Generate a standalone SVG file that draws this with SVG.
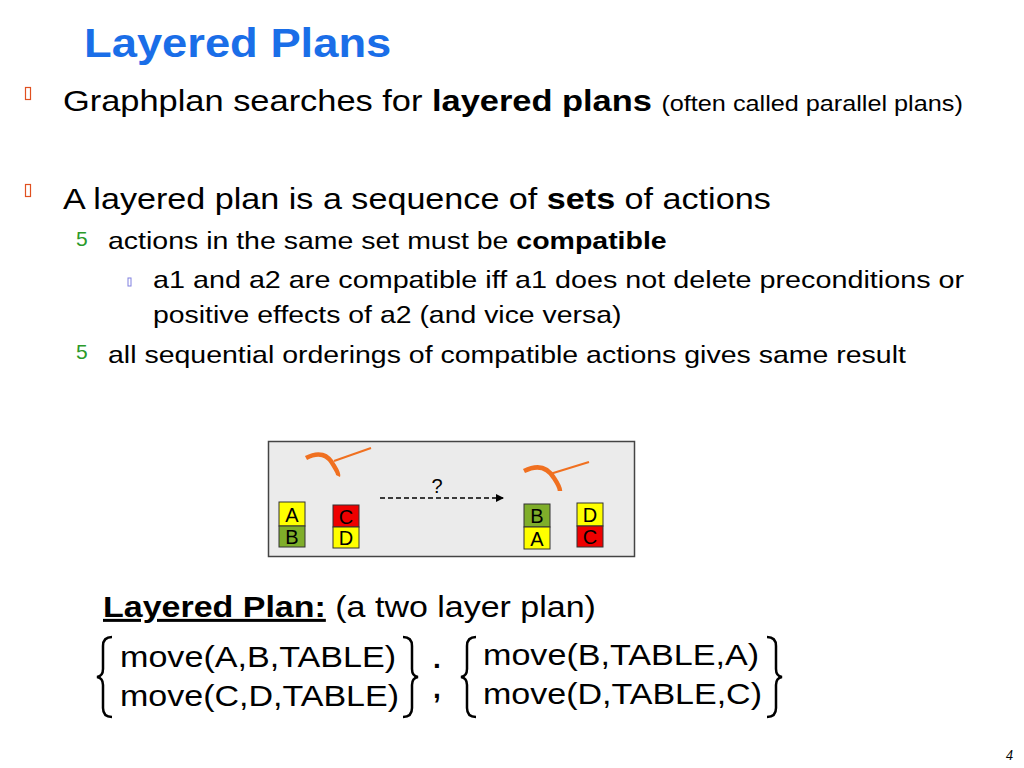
<svg xmlns="http://www.w3.org/2000/svg" width="1024" height="768" viewBox="0 0 1024 768">
<style>
text{font-family:"Liberation Sans",Arial,sans-serif;fill:#000}
.b1{fill:none;stroke:#e05020;stroke-width:1.2}
.g{fill:#2a9a2a}
.br{fill:none;stroke:#000;stroke-width:2.5}
.blk{stroke:#333;stroke-width:1}
.arm{fill:none;stroke:#f07020;stroke-width:4.5}
.line{stroke:#f07020;stroke-width:2}
</style>
<defs><marker id="ah" markerWidth="8" markerHeight="8" refX="7" refY="4" orient="auto" markerUnits="userSpaceOnUse"><path d="M0,0L8,4L0,8z" fill="#000"/></marker></defs>
<rect width="1024" height="768" fill="#fff"/>
<text transform="translate(84,57) scale(1.133,1)" font-size="40" font-weight="bold" style="fill:#1a6ee8">Layered Plans</text>
<rect class="b1" x="25.5" y="87.5" width="5" height="12"/>
<text transform="translate(63,111) scale(1.147,1)" font-size="30">Graphplan searches for <tspan font-weight="bold">layered plans</tspan> <tspan font-size="22">(often called parallel plans)</tspan></text>
<rect class="b1" x="25.5" y="184.5" width="5" height="12"/>
<text transform="translate(63,209) scale(1.138,1)" font-size="30">A layered plan is a sequence of <tspan font-weight="bold">sets</tspan> of actions</text>
<text x="76" y="246" font-size="21" class="g">5</text>
<text transform="translate(108,249) scale(1.187,1)" font-size="24">actions in the same set must be <tspan font-weight="bold">compatible</tspan></text>
<rect x="128" y="278" width="3" height="8" fill="none" stroke="#8080e0" stroke-width="1"/>
<text transform="translate(153,288) scale(1.198,1)" font-size="24">a1 and a2 are compatible iff  a1 does not delete preconditions or</text>
<text transform="translate(153,323) scale(1.184,1)" font-size="24">positive effects of a2 (and vice versa)</text>
<text x="76" y="359" font-size="21" class="g">5</text>
<text transform="translate(108,363) scale(1.1875,1)" font-size="24">all sequential orderings of compatible actions gives same result</text>
<g id="scene">
<rect x="268.5" y="441.5" width="366" height="115" fill="#ebebeb" stroke="#444" stroke-width="1.5"/>
<path class="arm" d="M306,458 Q325,448 334,466 Q339,474 338,476"/>
<line class="line" x1="334" y1="461" x2="371" y2="448"/>
<path class="arm" d="M524,471 Q544,461 554,478 Q560,487 560,491"/>
<line class="line" x1="550" y1="474" x2="589" y2="462"/>
<g id="blockA1"><rect class="blk" x="279" y="502" width="26" height="24" fill="#ffff00"/><text x="292" y="522" font-size="20" text-anchor="middle">A</text></g>
<g id="blockB1"><rect class="blk" x="279" y="526" width="26" height="21" fill="#7fae2a"/><text x="292" y="544" font-size="20" text-anchor="middle">B</text></g>
<g id="blockC1"><rect class="blk" x="333" y="505" width="26" height="22" fill="#ee0000"/><text x="346" y="524" font-size="20" text-anchor="middle">C</text></g>
<g id="blockD1"><rect class="blk" x="333" y="527" width="26" height="21" fill="#ffff00"/><text x="346" y="545" font-size="20" text-anchor="middle">D</text></g>
<g id="blockB2"><rect class="blk" x="524" y="504" width="26" height="23" fill="#7fae2a"/><text x="537" y="523" font-size="20" text-anchor="middle">B</text></g>
<g id="blockA2"><rect class="blk" x="524" y="527" width="26" height="22" fill="#ffff00"/><text x="537" y="546" font-size="20" text-anchor="middle">A</text></g>
<g id="blockD2"><rect class="blk" x="577" y="503" width="26" height="23" fill="#ffff00"/><text x="590" y="522" font-size="20" text-anchor="middle">D</text></g>
<g id="blockC2"><rect class="blk" x="577" y="526" width="26" height="21" fill="#ee0000"/><text x="590" y="544" font-size="20" text-anchor="middle">C</text></g>
<text x="437" y="493" font-size="20" text-anchor="middle">?</text>
</g>
<g id="connectors"><line x1="380" y1="498" x2="503" y2="498" stroke="#000" stroke-width="1.5" stroke-dasharray="5,3" marker-end="url(#ah)"/></g>
<text transform="translate(103,617) scale(1.133,1)" font-size="30"><tspan font-weight="bold" text-decoration="underline">Layered Plan:</tspan> (a two layer plan)</text>
<path class="br" d="M112,637 Q103,637 103,646 L103,669 Q103,676 97,677 Q103,678 103,685 L103,708 Q103,717 112,717"/>
<text x="120" y="667" font-size="30" textLength="276" lengthAdjust="spacingAndGlyphs">move(A,B,TABLE)</text>
<text x="120" y="706" font-size="30" textLength="279" lengthAdjust="spacingAndGlyphs">move(C,D,TABLE)</text>
<path class="br" d="M403,637 Q412,637 412,646 L412,669 Q412,676 418,677 Q412,678 412,685 L412,708 Q412,717 403,717"/>
<text x="437" y="668" font-size="28" font-weight="bold" text-anchor="middle">.</text>
<text x="437" y="698" font-size="28" font-weight="bold" text-anchor="middle">,</text>
<path class="br" d="M476,637 Q467,637 467,646 L467,669 Q467,676 461,677 Q467,678 467,685 L467,708 Q467,717 476,717"/>
<text x="483" y="665" font-size="30" textLength="276" lengthAdjust="spacingAndGlyphs">move(B,TABLE,A)</text>
<text x="483" y="704" font-size="30" textLength="279" lengthAdjust="spacingAndGlyphs">move(D,TABLE,C)</text>
<path class="br" d="M767,637 Q776,637 776,646 L776,669 Q776,676 782,677 Q776,678 776,685 L776,708 Q776,717 767,717"/>
<text x="1013" y="760" font-size="14" font-style="italic" text-anchor="end" style="font-family:'Liberation Serif',serif">4</text>
</svg>
